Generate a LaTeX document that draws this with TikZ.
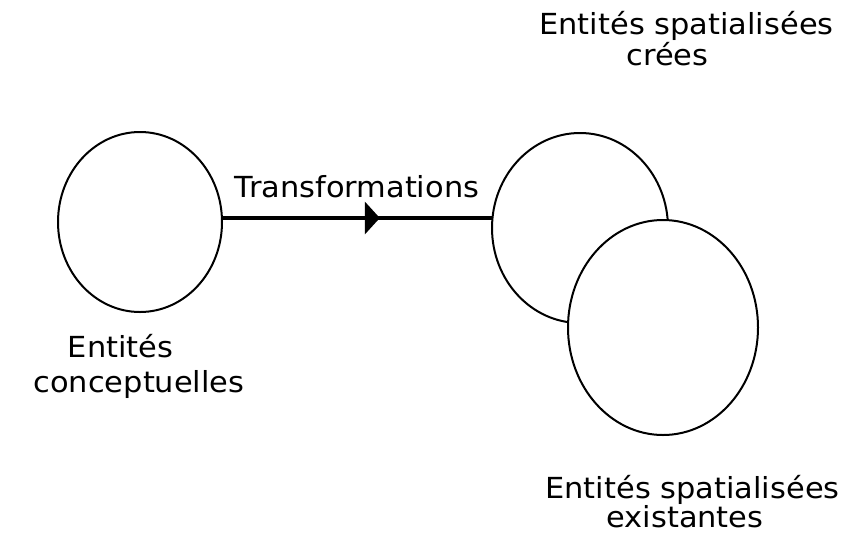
\documentclass[tikz,border=0pt]{standalone}
\usepackage{fontspec}
\setmainfont{DejaVu Sans}[FakeStretch=1.05]
\usetikzlibrary{shapes.geometric,arrows.meta,decorations.markings}
\begin{document}
\begin{tikzpicture}[x=1pt,y=-1pt,
  blob/.style={draw=black,line width=2pt,ellipse,inner sep=0pt},
  lbl/.style={anchor=base,inner sep=0pt,font=\fontsize{29}{34}\selectfont},
  flow/.style={line width=4pt,postaction={decorate},
    decoration={markings,mark=at position 0.583 with {\arrow{Triangle[length=15pt,width=32pt]}}}}]
\useasboundingbox[fill=white] (0,0) rectangle (856,547);
\node[blob,minimum width=164pt,minimum height=180pt] (L) at (140,222) {};
\node[blob,minimum width=176pt,minimum height=190pt] (T) at (580,228) {};
\draw[flow] ([yshift=4pt]L.east) -- ([yshift=10pt,xshift=1pt]T.west);
\node[blob,fill=white,minimum width=190pt,minimum height=215pt] (B) at (663,327.5) {};
\node[lbl] (t1) at (357,197) {Transformations};
\node[lbl] (t2) at (120.5,357) {Entités};
\node[lbl] (t3) at (139,392) {conceptuelles};
\node[lbl] (t4) at (686.5,34) {Entités spatialisées};
\node[lbl] (t5) at (667.5,65) {crées};
\node[lbl] (t6) at (692.5,498) {Entités spatialisées};
\node[lbl] (t7) at (685,527) {existantes};
\end{tikzpicture}
\end{document}
